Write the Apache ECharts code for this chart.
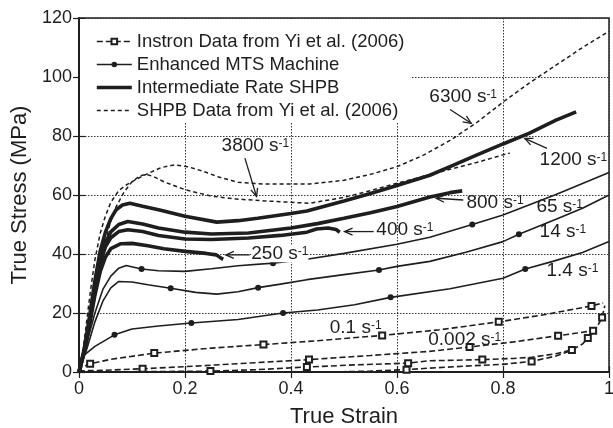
<!DOCTYPE html>
<html><head><meta charset="utf-8">
<script src="https://cdn.jsdelivr.net/npm/echarts@6/dist/echarts.min.js"></script>
<style>html,body{margin:0;padding:0;background:#fff}#c{width:613px;height:428px}</style>
</head><body><div id="c"></div>
<script>
// ---------- data ----------
const xTicks = [0, 0.2, 0.4, 0.6, 0.8, 1];
const yTicks = [0, 20, 40, 60, 80, 100, 120];

// Instron data (Yi et al. 2006), dashed with squares
const instronA = [[0,0],[0.005,1.5],[0.021,2.8],[0.06,4.3],[0.142,6.4],[0.25,8.1],[0.348,9.3],[0.45,10.6],[0.572,12.4],[0.68,14.3],[0.792,17.0],[0.88,19.5],[0.967,22.4],[0.989,23.4]];
const instronAMarks = [2,4,6,8,10,12];
const instronB = [[0,0],[0.005,0.4],[0.05,0.6],[0.12,1.1],[0.22,2.0],[0.337,3.2],[0.434,4.2],[0.55,5.6],[0.662,7.0],[0.737,8.5],[0.82,10.2],[0.904,12.3],[0.94,13.2],[0.97,14.0]];
const instronBMarks = [3,6,9,11,13];
const instronC = [[0,0],[0.1,0.1],[0.248,0.3],[0.337,0.8],[0.43,1.7],[0.52,2.4],[0.621,3.0],[0.66,3.8],[0.761,4.2],[0.82,4.6],[0.854,5.0],[0.9,6.2],[0.93,7.5],[0.95,9.5],[0.96,11.5],[0.975,14.5],[0.987,18.5],[0.992,22.5]];
const instronCMarks = [2,4,6,8,12,14,16];
const instronD = [[0,0],[0.3,0],[0.5,0.1],[0.55,0.3],[0.618,0.8],[0.66,1.3],[0.73,2.0],[0.8,2.6],[0.854,3.6],[0.9,5.4],[0.93,7.4]];
const instronDMarks = [4,8];

// Enhanced MTS machine, thin line with dots
const mts1p4 = [[0,0],[0.008,5.5],[0.03,8.7],[0.067,12.6],[0.1,14.6],[0.15,15.6],[0.212,16.6],[0.3,17.8],[0.385,20.0],[0.45,21.0],[0.52,22.8],[0.588,25.3],[0.7,28.2],[0.8,31.8],[0.842,34.9],[0.894,37.5],[0.95,40.5],[1.0,44.2]];
const mts1p4Marks = [3,6,8,11,14];
const mts14 = [[0,0],[0.015,8],[0.03,17],[0.045,24],[0.06,28.5],[0.075,30.7],[0.1,30.5],[0.13,29.6],[0.173,28.4],[0.22,27],[0.26,26.4],[0.3,27.2],[0.338,28.6],[0.38,29.8],[0.43,31.3],[0.5,33],[0.566,34.6],[0.6,35.8],[0.662,37.5],[0.73,40.6],[0.8,44.2],[0.83,46.7],[0.9,51.8],[0.95,55.5],[1.0,60.0]];
const mts14Marks = [8,12,16,21];
const mts65 = [[0,0],[0.015,10],[0.03,20],[0.045,28],[0.06,32.5],[0.075,35.2],[0.089,36.1],[0.118,34.9],[0.15,34.3],[0.2,34.1],[0.25,35],[0.3,36],[0.366,36.9],[0.43,38.2],[0.5,40.2],[0.6,43.3],[0.662,45.7],[0.742,50.0],[0.8,53.2],[0.9,60.2],[1.0,67.6]];
const mts65Marks = [7,12,17];

// Intermediate rate SHPB, thick lines
const shpb250 = [[0,0],[0.01,7],[0.02,16],[0.03,26],[0.04,34],[0.05,39],[0.06,41.8],[0.079,43.5],[0.1,43.6],[0.13,42.8],[0.16,41.8],[0.2,40.9],[0.24,40.2],[0.259,39.7],[0.268,38.6],[0.272,38.2]];
const shpb400 = [[0,0],[0.01,7],[0.02,17],[0.03,28],[0.04,37],[0.05,42.5],[0.06,45.5],[0.075,47.6],[0.092,48.2],[0.12,47.6],[0.15,46.3],[0.2,45.1],[0.25,44.9],[0.32,45.4],[0.38,46.3],[0.43,47.4],[0.448,48.5],[0.47,48.8],[0.485,48.3],[0.492,47.4]];
const shpb800 = [[0,0],[0.01,7],[0.02,17],[0.03,29],[0.04,38.5],[0.05,44],[0.06,47.5],[0.075,50],[0.092,51],[0.12,50.2],[0.15,48.8],[0.2,47.4],[0.25,46.8],[0.32,47.1],[0.4,48.8],[0.45,50.3],[0.5,52.1],[0.55,54],[0.6,56.1],[0.662,59.3],[0.7,60.8],[0.723,61.4]];
const shpb1200 = [[0,0],[0.01,8],[0.02,19],[0.03,31],[0.04,41],[0.05,47.5],[0.06,52],[0.07,55],[0.082,56.6],[0.096,57.2],[0.12,56.2],[0.15,55],[0.2,52.8],[0.26,50.8],[0.3,51.3],[0.337,52.1],[0.4,53.7],[0.43,54.6],[0.5,58.0],[0.55,60.5],[0.6,63.2],[0.662,66.7],[0.7,69.6],[0.75,73.5],[0.8,77.3],[0.85,81],[0.9,85.4],[0.938,88.2]];

// SHPB data (Yi et al. 2006), short dashes
const yi3800 = [[0,0],[0.01,6],[0.02,15],[0.03,25],[0.04,35],[0.05,44],[0.058,50],[0.07,56],[0.085,61],[0.1,64.5],[0.115,66.5],[0.127,67],[0.14,66.3],[0.16,64.5],[0.2,61.8],[0.25,59.6],[0.3,58.6],[0.35,58],[0.435,57.2],[0.5,59.2],[0.55,61.5],[0.6,64],[0.7,68.7],[0.75,71],[0.8,73.6],[0.813,74.2]];
const yi6300 = [[0,0],[0.008,8],[0.015,18],[0.022,28],[0.03,38],[0.04,47],[0.05,53],[0.06,57.5],[0.075,61.5],[0.09,63.5],[0.11,65.5],[0.13,67.3],[0.155,69.3],[0.18,70.2],[0.205,69.6],[0.235,68],[0.262,66.2],[0.3,64.3],[0.35,63.7],[0.435,63.7],[0.5,65],[0.55,67],[0.6,69.6],[0.65,73.5],[0.7,78.5],[0.75,84.5],[0.8,91.5],[0.85,98],[0.9,104],[0.95,110],[1.0,115.5]];

const legendNames = ['Instron Data from Yi et al. (2006)','Enhanced MTS Machine','Intermediate Rate SHPB','SHPB Data from Yi et al. (2006)'];

// annotation labels (rate, in data coordinates) and arrows
const annotations = [
  {rate:'3800', at:[0.269,76.6], arrow:[[0.313,72.5],[0.335,59.5]], bg:true},
  {rate:'6300', at:[0.661,93.2], arrow:[[0.700,89.0],[0.740,84.3]]},
  {rate:'1200', at:[0.869,71.9], arrow:[[0.883,75.8],[0.841,79.2]]},
  {rate:'800',  at:[0.731,57.3], arrow:[[0.725,58.3],[0.674,58.9]]},
  {rate:'65',   at:[0.863,56.0]},
  {rate:'14',   at:[0.869,47.5]},
  {rate:'1.4',  at:[0.882,34.3]},
  {rate:'400',  at:[0.561,48.2], arrow:[[0.556,47.6],[0.501,47.6]]},
  {rate:'250',  at:[0.325,40.1], arrow:[[0.322,39.7],[0.277,39.7]], bg:true},
  {rate:'0.1',  at:[0.473,15.0]},
  {rate:'0.002',at:[0.659,10.9]}
];

// ---------- chart ----------
const INK = '#1e1e1e';
const FONT = '"Liberation Sans", Arial, sans-serif';

function withMarks(pts, marks){
  return pts.map((p,i)=> marks.indexOf(i) >= 0 ? {value:p} : {value:p, symbol:'none'});
}
function instron(pts, marks){
  return {type:'line', name:legendNames[0], data:withMarks(pts,marks), symbol:'emptyRect', symbolSize:6, showAllSymbol:true,
    lineStyle:{color:INK, width:1.6, type:[6,3]}, itemStyle:{color:INK, borderWidth:1}, z:3};
}
function mts(pts, marks){
  return {type:'line', name:legendNames[1], data:withMarks(pts,marks), symbol:'circle', symbolSize:6, showAllSymbol:true,
    lineStyle:{color:INK, width:1.6}, itemStyle:{color:INK}, z:3};
}
function thick(pts){
  return {type:'line', name:legendNames[2], data:pts, symbol:'none', lineStyle:{color:INK, width:3.6}, itemStyle:{color:INK}, z:4};
}
function yi(pts){
  return {type:'line', name:legendNames[3], data:pts, symbol:'none', lineStyle:{color:INK, width:1.5, type:[4,3]}, itemStyle:{color:INK}, z:3};
}

const chart = echarts.init(document.getElementById('c'), null, {renderer:'canvas'});
const axisCommon = {
  axisLine:{show:true, lineStyle:{color:INK, width:1.5}},
  axisTick:{show:true, inside:true, length:6, lineStyle:{color:INK, width:1.2}}
};
const option = {
  animation:false,
  backgroundColor:'#fff',
  textStyle:{fontFamily:FONT},
  grid:{left:79, right:4, top:18, bottom:56, show:true, borderColor:INK, borderWidth:1.5,
        containLabel:false, outerBoundsMode:'none'},
  legend:{
    data:[
      {name:legendNames[0]},
      {name:legendNames[1]},
      {name:legendNames[2], itemStyle:{opacity:0}},
      {name:legendNames[3], itemStyle:{opacity:0}}
    ],
    orient:'vertical', left:80, top:19,
    padding:[13,6,3,15], itemWidth:35, itemHeight:7, itemGap:4,
    backgroundColor:'#fff', selectedMode:false,
    textStyle:{fontFamily:FONT, fontSize:18.5, color:INK, lineHeight:18},
    lineStyle:{width:'inherit'}
  },
  xAxis:[
    Object.assign({type:'value', min:xTicks[0], max:xTicks[xTicks.length-1], interval:xTicks[1]-xTicks[0], position:'bottom',
      name:'True Strain', nameLocation:'middle', nameGap:34,
      nameTextStyle:{fontFamily:FONT, fontSize:22, color:INK},
      axisLabel:{fontFamily:FONT, fontSize:18, color:INK, margin:8},
      splitLine:{show:true, lineStyle:{color:'#333', width:1, type:[1.5,1.5]}}}, axisCommon),
    Object.assign({type:'value', min:xTicks[0], max:xTicks[xTicks.length-1], interval:xTicks[1]-xTicks[0], position:'top',
      axisLabel:{show:false}, splitLine:{show:false}}, axisCommon)
  ],
  yAxis:[
    Object.assign({type:'value', min:yTicks[0], max:yTicks[yTicks.length-1], interval:yTicks[1]-yTicks[0], position:'left',
      name:'True Stress (MPa)', nameLocation:'middle', nameGap:45,
      nameTextStyle:{fontFamily:FONT, fontSize:22, color:INK},
      axisLabel:{fontFamily:FONT, fontSize:18, color:INK, margin:7},
      splitLine:{show:true, lineStyle:{color:'#333', width:1, type:[1.5,1.5]}}}, axisCommon),
    Object.assign({type:'value', min:yTicks[0], max:yTicks[yTicks.length-1], interval:yTicks[1]-yTicks[0], position:'right',
      axisLabel:{show:false}, splitLine:{show:false}}, axisCommon)
  ],
  series:[
    instron(instronA, instronAMarks), instron(instronB, instronBMarks),
    instron(instronC, instronCMarks), instron(instronD, instronDMarks),
    mts(mts1p4, mts1p4Marks), mts(mts14, mts14Marks), mts(mts65, mts65Marks),
    thick(shpb250), thick(shpb400), thick(shpb800), thick(shpb1200),
    yi(yi3800), yi(yi6300)
  ]
};
chart.setOption(option);

// annotations positioned through the chart's own scales
const graphics = [];
annotations.forEach(a => {
  const p = chart.convertToPixel({xAxisIndex:0, yAxisIndex:0}, a.at);
  graphics.push({
    type:'text', x:p[0], y:p[1], z:10,
    style:{
      text:'{b|' + a.rate + ' s}{s|-1}',
      fill:INK, align:'left', verticalAlign:'middle',
      backgroundColor: a.bg ? '#fff' : null,
      padding: 0,
      rich:{
        b:{fontFamily:FONT, fontSize:19, fill:INK, lineHeight:17},
        s:{fontFamily:FONT, fontSize:12, fill:INK, lineHeight:10, verticalAlign:'top'}
      }
    }
  });
  if (a.arrow){
    const s = chart.convertToPixel({xAxisIndex:0, yAxisIndex:0}, a.arrow[0]);
    const e = chart.convertToPixel({xAxisIndex:0, yAxisIndex:0}, a.arrow[1]);
    const dx = e[0]-s[0], dy = e[1]-s[1], L = Math.hypot(dx,dy);
    const ux = dx/L, uy = dy/L, nx = -uy, ny = ux, hl = 8, hw = 3.5;
    graphics.push({type:'line', z:10, shape:{x1:s[0], y1:s[1], x2:e[0], y2:e[1]}, style:{stroke:INK, lineWidth:1.3}});
    graphics.push({type:'polyline', z:10, shape:{points:[
      [e[0]-ux*hl+nx*hw, e[1]-uy*hl+ny*hw], [e[0], e[1]], [e[0]-ux*hl-nx*hw, e[1]-uy*hl-ny*hw]]},
      style:{stroke:INK, lineWidth:1.3, fill:null}});
  }
});
chart.setOption({graphic:graphics});
</script>
</body></html>
